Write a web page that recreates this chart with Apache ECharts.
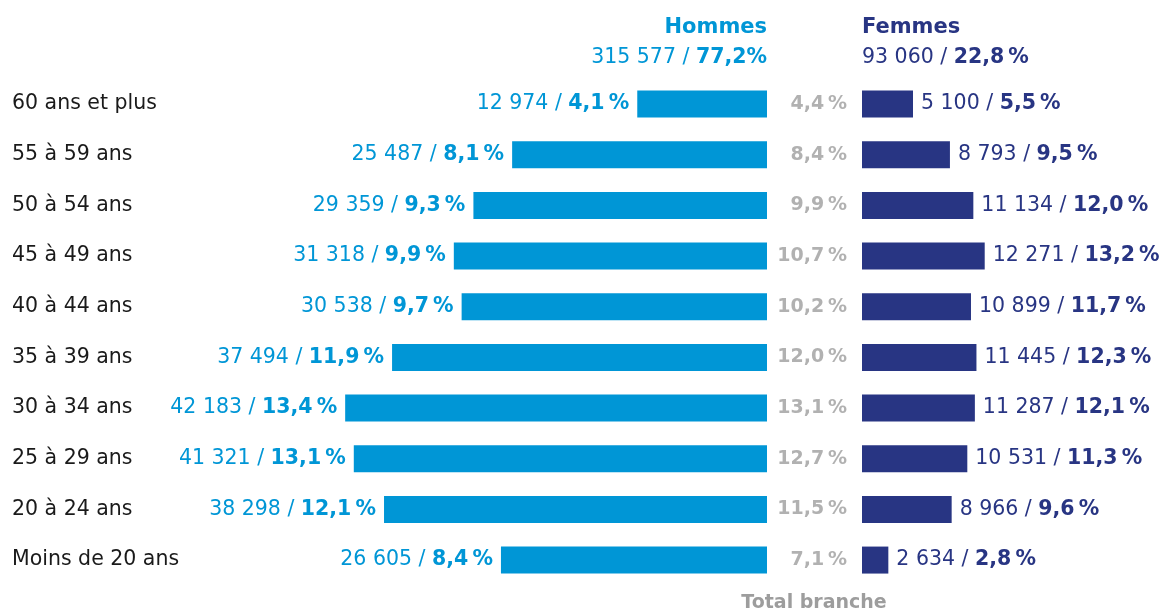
<!DOCTYPE html>
<html>
<head>
<meta charset="utf-8">
<script src="https://cdn.jsdelivr.net/npm/echarts@6/dist/echarts.min.js"></script>
<style>
  html, body { margin: 0; padding: 0; background: #fff; }
  #root { width: 1170px; height: 615px; }
</style>
</head>
<body>
<div id="root"></div>
<script>
// tranches d'age, de haut en bas
var categories = ['60 ans et plus', '55 à 59 ans', '50 à 54 ans', '45 à 49 ans', '40 à 44 ans',
  '35 à 39 ans', '30 à 34 ans', '25 à 29 ans', '20 à 24 ans', 'Moins de 20 ans'];
var hommes = [12974, 25487, 29359, 31318, 30538, 37494, 42183, 41321, 38298, 26605];
var hommesPct = ['4,1', '8,1', '9,3', '9,9', '9,7', '11,9', '13,4', '13,1', '12,1', '8,4'];
var femmes = [5100, 8793, 11134, 12271, 10899, 11445, 11287, 10531, 8966, 2634];
var femmesPct = ['5,5', '9,5', '12,0', '13,2', '11,7', '12,3', '12,1', '11,3', '9,6', '2,8'];
var totalBranche = ['4,4', '8,4', '9,9', '10,7', '10,2', '12,0', '13,1', '12,7', '11,5', '7,1'];
var totalHommes = 315577, totalHommesPct = '77,2';
var totalFemmes = 93060, totalFemmesPct = '22,8';

var BLEU = '#0096d6';
var MARINE = '#283583';
var GRIS = '#9d9d9d';
var FONT = 'DejaVu Sans';
var FS = 20.5;

function fmt(n) {
  return String(n).replace(/\B(?=(\d{3})+(?!\d))/g, ' ');
}

var top0 = 78.7, bottom0 = 29.6;

var option = {
  animation: false,
  textStyle: { fontFamily: FONT },
  grid: [
    { left: 0, right: 403, top: top0, bottom: bottom0 },
    { left: 862, right: 0, top: top0, bottom: bottom0 }
  ],
  xAxis: [
    { gridIndex: 0, type: 'value', min: 0, max: 76700, inverse: true, show: false },
    { gridIndex: 1, type: 'value', min: 0, max: 30800, show: false }
  ],
  yAxis: [
    {
      gridIndex: 0, type: 'category', data: categories, inverse: true,
      axisLine: { show: false, onZero: false }, axisTick: { show: false },
      axisLabel: { inside: true, margin: 12, color: '#1a1a1a', fontSize: FS, fontFamily: FONT }
    },
    {
      gridIndex: 1, type: 'category', data: categories, inverse: true,
      axisLine: { show: false, onZero: false }, axisTick: { show: false }, axisLabel: { show: false }
    }
  ],
  graphic: [
    { type: 'text', x: 767, y: 28, style: { text: 'Hommes', align: 'right', verticalAlign: 'middle',
      fill: BLEU, font: 'bold 21px ' + FONT } },
    { type: 'text', x: 767, y: 58, style: {
      text: fmt(totalHommes) + ' / {b|' + totalHommesPct + '%}', align: 'right', verticalAlign: 'middle',
      fill: BLEU, fontSize: FS, fontFamily: FONT,
      rich: { b: { fontWeight: 'bold', fontSize: FS, fontFamily: FONT, fill: BLEU } } } },
    { type: 'text', x: 862, y: 28, style: { text: 'Femmes', align: 'left', verticalAlign: 'middle',
      fill: MARINE, font: 'bold 21px ' + FONT } },
    { type: 'text', x: 862, y: 58, style: {
      text: fmt(totalFemmes) + ' / {b|' + totalFemmesPct + '\u2009%}', align: 'left', verticalAlign: 'middle',
      fill: MARINE, fontSize: FS, fontFamily: FONT,
      rich: { b: { fontWeight: 'bold', fontSize: FS, fontFamily: FONT, fill: MARINE } } } },
    { type: 'text', x: 814, y: 603, style: { text: 'Total branche', align: 'center', verticalAlign: 'middle',
      fill: GRIS, font: 'bold 19px ' + FONT } }
  ],
  series: [
    {
      name: 'Hommes', type: 'bar', xAxisIndex: 0, yAxisIndex: 0, barWidth: 27,
      itemStyle: { color: BLEU },
      label: {
        show: true, position: 'left', distance: 8, color: BLEU, fontSize: FS,
        formatter: function (p) { return fmt(p.value) + ' / {b|' + hommesPct[p.dataIndex] + '\u2009%}'; },
        rich: { b: { fontWeight: 'bold', fontSize: FS, color: BLEU } }
      },
      data: hommes
    },
    {
      name: 'Femmes', type: 'bar', xAxisIndex: 1, yAxisIndex: 1, barWidth: 27,
      itemStyle: { color: MARINE },
      label: {
        show: true, position: 'right', distance: 8, color: MARINE, fontSize: FS,
        formatter: function (p) { return fmt(p.value) + ' / {b|' + femmesPct[p.dataIndex] + '\u2009%}'; },
        rich: { b: { fontWeight: 'bold', fontSize: FS, color: MARINE } }
      },
      data: femmes
    },
    {
      // colonne "Total branche" ancree sur x = 0 de la grille femmes
      name: 'Total', type: 'scatter', xAxisIndex: 1, yAxisIndex: 1, symbolSize: 0,
      label: {
        show: true, position: 'left', distance: 15, color: GRIS, fontSize: 19, fontWeight: 'bold',
        formatter: function (p) { return totalBranche[p.dataIndex] + '\u2009%'; }
      },
      data: totalBranche.map(function (v, i) { return [0, i]; })
    }
  ]
};

var myChart = echarts.init(document.getElementById('root'));
myChart.setOption(option);
</script>
</body>
</html>
